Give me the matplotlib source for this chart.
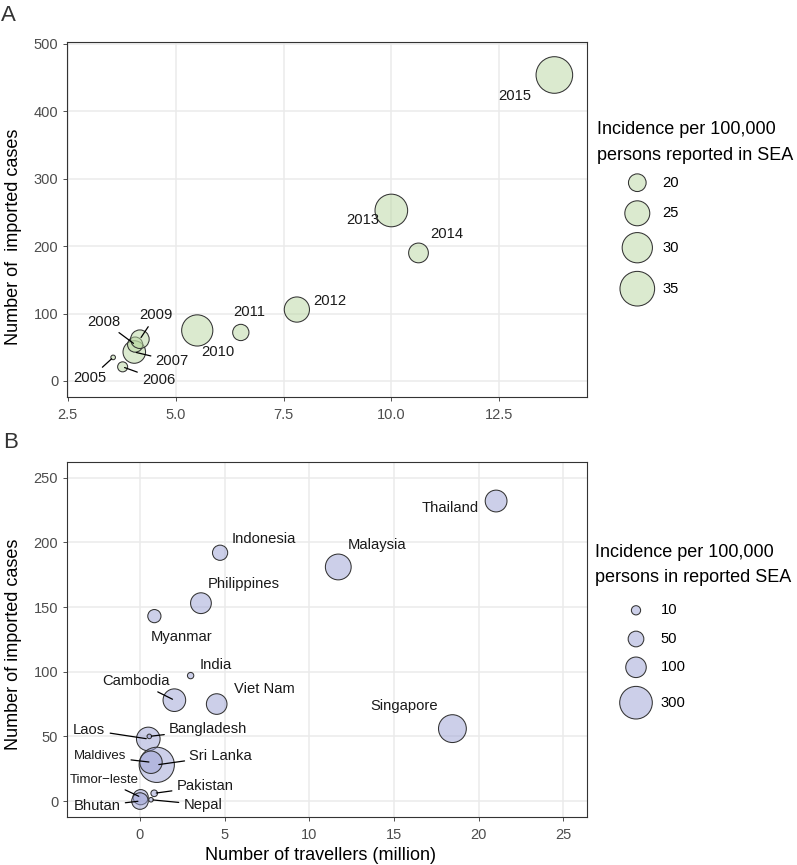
import matplotlib
matplotlib.use("Agg")
import matplotlib.pyplot as plt
import numpy as np

plt.rcParams["font.family"] = ["Liberation Sans", "DejaVu Sans"]

# ── Dados ────────────────────────────────────────────────────────────────────
years = ["2005", "2006", "2007", "2008", "2009", "2010",
         "2011", "2012", "2013", "2014", "2015"]
travellers_a = [3.55, 3.77, 4.04, 4.06, 4.17, 5.50, 6.51, 7.81, 10.00, 10.63, 13.78]
cases_a = [35, 21, 43, 54, 62, 75, 72, 106, 253, 190, 454]
incidence_a = [16.5, 17.1, 23.1, 18.8, 20.5, 31.0, 19.3, 25.2, 32.6, 21.2, 37.5]
legend_a = [20, 25, 30, 35]

countries = ["Indonesia", "Malaysia", "Philippines", "Myanmar", "India",
             "Cambodia", "Viet Nam", "Laos", "Bangladesh", "Sri Lanka",
             "Maldives", "Timor\u2212leste", "Bhutan", "Pakistan", "Nepal",
             "Thailand", "Singapore"]
travellers_b = [4.73, 11.71, 3.60, 0.85, 2.99, 2.03, 4.53, 0.49, 0.55, 0.99,
                0.65, 0.04, 0.00, 0.84, 0.65, 21.03, 18.45]
cases_b = [192, 181, 153, 143, 97, 78, 75, 48, 50, 28,
           30, 3, 0, 6, 1, 232, 56]
incidence_b = [46, 174, 103, 31, 2, 127, 101, 141, 0.1, 357,
               124, 46, 58, 2.5, 0.1, 116, 208]
legend_b = [10, 50, 100, 300]

# ── Estilo ───────────────────────────────────────────────────────────────────
W, H, DPI = 797, 865, 100
FILL_A = (0.725, 0.843, 0.631, 0.5)
FILL_B = (0.608, 0.631, 0.835, 0.5)
EDGE = "#333333"
GRID = "#ebebeb"
TICK = "#4d4d4d"

# label offsets in pixels (dx, dy up) and whether a leader segment is drawn
OFF_A = {
    "2005": (-23, -21, True), "2006": (36, -13, True), "2007": (38, -9, True),
    "2008": (-31, 23, True), "2009": (16, 24, True), "2010": (21, -22, False),
    "2011": (8, 20, False), "2012": (33, 9, False), "2013": (-29, -10, False),
    "2014": (28, 19, False), "2015": (-40, -21, False),
}
OFF_B = {
    "Indonesia": (44, 14, False), "Malaysia": (39, 22, False),
    "Philippines": (43, 19, False), "Myanmar": (27, -21, False),
    "India": (25, 11, False), "Cambodia": (-38, 19, True),
    "Viet Nam": (48, 15, False), "Laos": (-59, 9, True),
    "Bangladesh": (59, 7, True), "Sri Lanka": (64, 9, True),
    "Maldives": (-51, 6, True), "Timor\u2212leste": (-36, 17, True),
    "Bhutan": (-43, -5, True), "Pakistan": (51, 7, True),
    "Nepal": (52, -5, True), "Thailand": (-46, -7, False),
    "Singapore": (-48, 23, False),
}
SMALL = {"Maldives", "Timor\u2212leste"}


def _area(r_px):
    """Raio em pixels -> área do marcador (pt²)."""
    d = 2 * (np.asarray(r_px, dtype=float) - 0.4) * 72 / DPI
    return d ** 2


def size_a(v):
    v = np.asarray(v, dtype=float)
    return _area(2.7 + 16 * np.sqrt(np.clip((v - 16.5) / 21.0, 0, None)))


def size_b(v):
    v = np.asarray(v, dtype=float)
    return _area(2.4 + 0.826 * np.sqrt(np.clip(v, 0, None)))


def px_axes(l, t, r, b):
    return [l / W, 1 - b / H, (r - l) / W, (b - t) / H]


def style_axes(ax):
    for s in ax.spines.values():
        s.set_edgecolor(EDGE)
        s.set_linewidth(0.8)
    ax.grid(True, color=GRID, linewidth=1.1, zorder=0)
    ax.set_axisbelow(True)
    ax.tick_params(colors=EDGE, labelcolor=TICK, labelsize=10.5,
                   length=2.8, width=0.6, pad=3.5)
    ax.tick_params(axis="x", pad=5.5)


def add_labels(ax, xs, ys, names, offsets, small=()):
    for x, y, nm in zip(xs, ys, names):
        dx, dy, seg = offsets[nm]
        fs = 9.5 if nm in small else 10.6
        ap = None
        if seg:
            ap = dict(arrowstyle="-", color="black", lw=0.9,
                      shrinkA=1.5, shrinkB=1.5)
        ax.annotate(nm, xy=(x, y), xytext=(dx, dy), textcoords="offset pixels",
                    ha="center", va="center", fontsize=fs, color="#1a1a1a",
                    arrowprops=ap, zorder=5)


fig = plt.figure(figsize=(W / DPI, H / DPI), dpi=DPI, facecolor="white")

# ── Painel A ─────────────────────────────────────────────────────────────────
axA = fig.add_axes(px_axes(67, 41.7, 586.7, 396.7))
style_axes(axA)
axA.scatter(travellers_a, cases_a, s=size_a(incidence_a), facecolor=FILL_A,
            edgecolor=EDGE, linewidth=0.75, zorder=3)
add_labels(axA, travellers_a, cases_a, years, OFF_A)
axA.set_xlim(2.48, 14.53)
axA.set_ylim(-23.3, 503.4)
axA.set_xticks([2.5, 5.0, 7.5, 10.0, 12.5])
axA.set_xticklabels(["2.5", "5.0", "7.5", "10.0", "12.5"])
axA.set_yticks([0, 100, 200, 300, 400, 500])

# ── Painel B ─────────────────────────────────────────────────────────────────
axB = fig.add_axes(px_axes(67, 461.7, 586.7, 816.7))
style_axes(axB)
axB.scatter(travellers_b, cases_b, s=size_b(incidence_b), facecolor=FILL_B,
            edgecolor=EDGE, linewidth=0.75, zorder=3)
add_labels(axB, travellers_b, cases_b, countries, OFF_B, SMALL)
axB.set_xlim(-4.31, 26.38)
axB.set_ylim(-12.1, 262.4)
axB.set_xticks([0, 5, 10, 15, 20, 25])
axB.set_yticks([0, 50, 100, 150, 200, 250])

# ── Textos de eixo / letras ──────────────────────────────────────────────────
def ftext(x, y, s, **kw):
    fig.text(x / W, 1 - y / H, s, **kw)

ftext(1, 5, "A", fontsize=16, color="#333333", ha="left", va="top")
ftext(3, 432, "B", fontsize=16, color="#333333", ha="left", va="top")
ftext(14, 236.7, "Number of  imported cases", fontsize=13, rotation=90,
      ha="center", va="center")
ftext(14, 644, "Number of imported cases", fontsize=13, rotation=90,
      ha="center", va="center")
ftext(320.7, 855, "Number of travellers (million)", fontsize=13,
      ha="center", va="center")

# ── Legendas (desenhadas em coordenadas de pixel) ────────────────────────────
ov = fig.add_axes([0, 0, 1, 1])
ov.set_xlim(0, W)
ov.set_ylim(H, 0)
ov.axis("off")

ov.text(597.3, 130, "Incidence per 100,000", fontsize=13, va="center", ha="left")
ov.text(597.3, 155, "persons reported in SEA", fontsize=13, va="center", ha="left")
key_y_a = [182.7, 213.3, 247.7, 288.7]
ov.scatter([637.3] * len(legend_a), key_y_a, s=size_a(legend_a),
           facecolor=FILL_A, edgecolor=EDGE, linewidth=0.75)
for yk, v in zip(key_y_a, legend_a):
    ov.text(662.7, yk, str(v), fontsize=10.6, va="center", ha="left")

ov.text(595, 552.3, "Incidence per 100,000", fontsize=13, va="center", ha="left")
ov.text(595, 577.3, "persons in reported SEA", fontsize=13, va="center", ha="left")
key_y_b = [610.3, 639, 667.3, 702.7]
ov.scatter([636] * len(legend_b), key_y_b, s=size_b(legend_b),
           facecolor=FILL_B, edgecolor=EDGE, linewidth=0.75)
for yk, v in zip(key_y_b, legend_b):
    ov.text(660.7, yk, str(v), fontsize=10.6, va="center", ha="left")

fig.savefig("out.png", dpi=DPI, facecolor="white")
plt.close(fig)
